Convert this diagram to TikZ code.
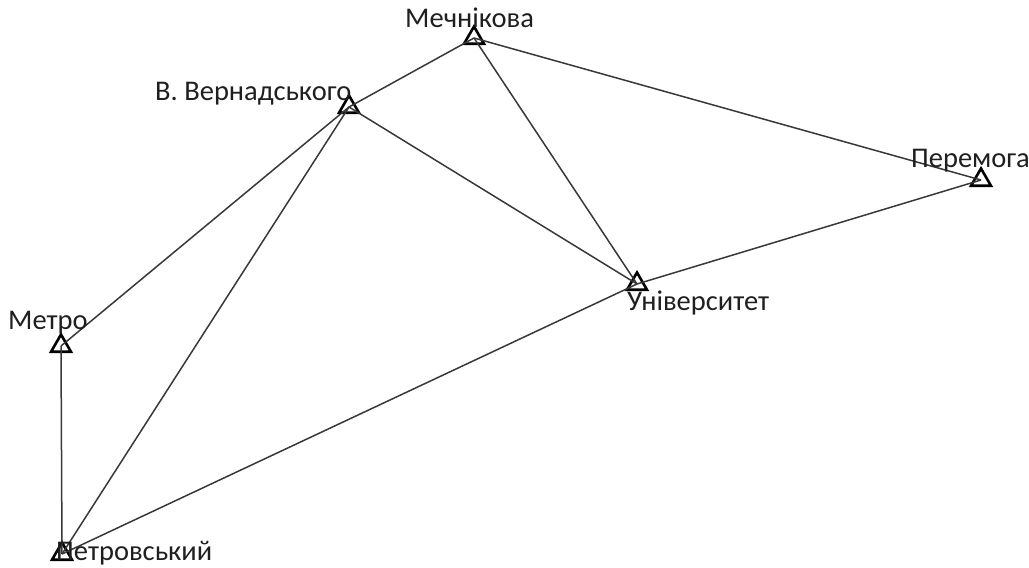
\documentclass[tikz,border=0pt]{standalone}
\usepackage{fontspec}
\setmainfont{Carlito}
\usetikzlibrary{shapes.geometric}
\tikzset{
  stop/.style={draw=black, line width=2.6pt, regular polygon, regular polygon sides=3, minimum size=23pt, inner sep=0pt},
  lbl/.style={anchor=base west, inner sep=0pt, font=\fontsize{28.5}{32}\selectfont, text=black!88},
  edge/.style={draw=black!78, line width=1.5pt}
}
\begin{document}
\begin{tikzpicture}[x=1pt,y=-1pt]
\useasboundingbox (0,0) rectangle (1029,568);
\node[stop] (mech) at (474,38) {};
\node[stop] (vern) at (349,107) {};
\node[stop] (perem) at (981,180) {};
\node[stop] (univ) at (637,284) {};
\node[stop] (metro) at (61,346) {};
\node[stop] (petr) at (62,554) {};
\draw[edge] (mech.center) -- (vern.center);
\draw[edge] (mech.center) -- (perem.center);
\draw[edge] (mech.center) -- (univ.center);
\draw[edge] (vern.center) -- (univ.center);
\draw[edge] (vern.center) -- (metro.center);
\draw[edge] (vern.center) -- (petr.center);
\draw[edge] (perem.center) -- (univ.center);
\draw[edge] (univ.center) -- (petr.center);
\draw[edge] (metro.center) -- (petr.center);
\node[lbl] (lmech) at (405,27) {Мечнікова};
\node[lbl] (lvern) at (155,100) {В. Вернадського};
\node[lbl] (lperem) at (911,167) {Перемога};
\node[lbl] (luniv) at (627,310) {Університет};
\node[lbl] (lmetro) at (8,329) {Метро};
\node[lbl] (lpetr) at (56,560) {Петровський};
\end{tikzpicture}
\end{document}
